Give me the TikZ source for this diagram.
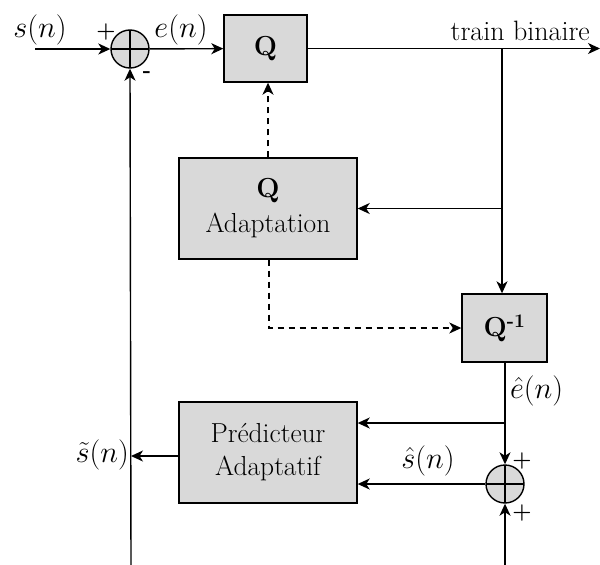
\documentclass[tikz,border=0pt]{standalone}
\usetikzlibrary{arrows.meta}
\newcommand{\mlab}[1]{\scalebox{1.22}{$#1$}}
\begin{document}
\begin{tikzpicture}[x=1pt,y=-1pt,
  txt/.style={font=\fontsize{24.88}{30}\selectfont, inner sep=0pt},
  ttxt/.style={font=\fontsize{28}{33}\selectfont, inner sep=0pt},
  sgn/.style={font=\fontsize{22}{26}\selectfont\bfseries, inner sep=0pt},
  blk/.style={draw, line width=1.4pt, fill=black!15, inner sep=0pt, align=center,
              font=\fontsize{27.5}{33}\selectfont},
  summ/.style={draw, circle, line width=1.4pt, fill=black!15, minimum size=38pt, inner sep=0pt,
               path picture={\draw[line width=1.4pt]
                 (path picture bounding box.north) -- (path picture bounding box.south)
                 (path picture bounding box.west) -- (path picture bounding box.east);}},
  wire/.style={line width=1.4pt},
  arr/.style={wire, -{Stealth[length=12pt,width=11pt,inset=3.5pt]}},
  darr/.style={arr, dash pattern=on 6pt off 5pt}]
\useasboundingbox (0,0) rectangle (600,565);

% blocks
\node[summ] (s1) at (130,49) {};
\node[blk, minimum width=83pt, minimum height=67pt] (q) at (265.5,48.5) {\textbf{Q}};
\node[blk, minimum width=178pt, minimum height=101pt] (qa) at (268,208.5)
  {\textbf{Q}\\[2pt]Adaptation};
\node[blk, minimum width=85pt, minimum height=68pt] (qi) at (504.5,328) {\textbf{Q\textsuperscript{-1}}};
\node[blk, minimum width=178pt, minimum height=101pt] (pr) at (268,452.5)
  {Prédicteur\\Adaptatif};
\node[summ] (s2) at (505,484) {};

% free ends
\coordinate (in) at (35,49);
\coordinate (out) at (600,48.5);
\coordinate (br) at (502,48.5);
\coordinate (bot1) at (131,565);
\coordinate (bot2) at (505,565);
\coordinate (st) at (131,456);

% labels
\node[txt] (ls) at (40,30) {\mlab{s(n)}};
\node[txt] (le) at (181,30) {\mlab{e(n)}};
\node[ttxt, anchor=base east] (lt) at (590,40) {train binaire};
\node[txt, anchor=west] (leh) at (510,391) {\mlab{\hat{e}(n)}};
\node[txt] (lsh) at (428,461) {\mlab{\hat{s}(n)}};
\node[txt, anchor=east] (lst) at (129,455) {\mlab{\tilde{s}(n)}};
\node[sgn] (p1) at (106,32) {+};
\node[sgn] (m1) at (147,75) {-};
\node[sgn] (p2) at (522,461) {+};
\node[sgn] (p3) at (522,513) {+};

% connectors
\draw[arr] (in) -- (s1);
\draw[arr] (s1) -- (q);
\draw[arr] (q) -- (out);
\draw[wire] (br) -- (br |- qa.east) coordinate (b1);
\draw[arr] (b1) -- (qa.east);
\draw[arr] (b1) -- (qi.north -| br);
\draw[darr] (qa.north) -- (q.south -| qa.north);
\draw[darr] ([xshift=1pt]qa.south) |- (qi.west);
\draw[wire] (qi.south -| s2) -- (s2 |- 0,423) coordinate (b2);
\draw[arr] (b2) -- (s2.north);
\draw[arr] (b2) -- (pr.east |- b2);
\draw[arr] (s2.west) -- (pr.east |- s2);
\draw[arr] (bot2) -- (s2.south);
\draw[arr] (bot1) -- (s1.south);
\draw[arr] (pr.west |- st) -- (st);
\end{tikzpicture}
\end{document}
